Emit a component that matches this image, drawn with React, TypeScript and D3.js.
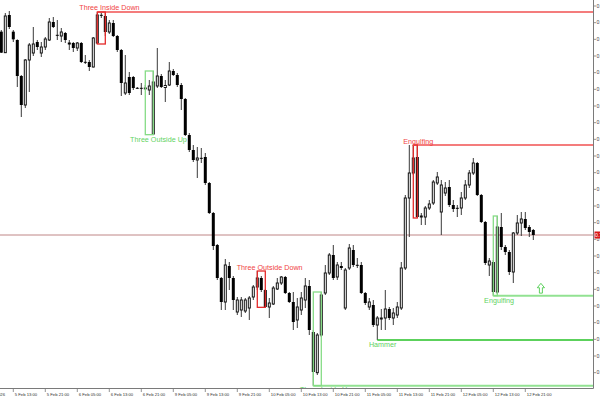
import React from "react";
import * as d3 from "d3";

// ---- Candle data (H1, starting 5 Feb 10:00) ----
const opens = [
  0.72246, 0.72120, 0.72346, 0.72246, 0.72196, 0.71980, 0.71806, 0.72076, 0.72118, 0.72184,
  0.72118, 0.72154, 0.72196, 0.72304, 0.72226, 0.72220, 0.72238, 0.72181, 0.72178, 0.72148,
  0.72178, 0.72064, 0.72064, 0.72034, 0.72178, 0.72346, 0.72340, 0.72244, 0.72298, 0.72220,
  0.72136, 0.71878, 0.71974, 0.71974, 0.71908, 0.71908, 0.71905, 0.71896, 0.71632, 0.71920,
  0.71980, 0.71911, 0.71926, 0.72010, 0.71986, 0.71926, 0.71842, 0.71626, 0.71536, 0.71476,
  0.71488, 0.71494, 0.71338, 0.71158, 0.70966, 0.70768, 0.70624, 0.70840, 0.70768, 0.70564,
  0.70576, 0.70570, 0.70588, 0.70654, 0.70714, 0.70768, 0.70696, 0.70594, 0.70612, 0.70702,
  0.70738, 0.70774, 0.70678, 0.70624, 0.70516, 0.70576, 0.70636, 0.70720, 0.70444, 0.70200,
  0.70426, 0.70678, 0.70798, 0.70906, 0.70774, 0.70840, 0.70588, 0.70828, 0.70936, 0.70846,
  0.70846, 0.70678, 0.70594, 0.70606, 0.70486, 0.70522, 0.70528, 0.70582, 0.70528, 0.70546,
  0.70588, 0.70828, 0.71248, 0.71398, 0.71494, 0.71134, 0.71134, 0.71188, 0.71218, 0.71338,
  0.71164, 0.71278, 0.71314, 0.71206, 0.71188, 0.71188, 0.71248, 0.71326, 0.71398, 0.71458,
  0.71266, 0.71104, 0.70846, 0.70864, 0.70684, 0.71074, 0.70954, 0.70924, 0.70804, 0.71038,
  0.71098, 0.71122, 0.71074, 0.71056,
];
const highs = [
  0.72256, 0.72358, 0.72370, 0.72256, 0.72200, 0.71986, 0.72082, 0.72178, 0.72274, 0.72196,
  0.72184, 0.72214, 0.72328, 0.72334, 0.72316, 0.72268, 0.72244, 0.72196, 0.72184, 0.72184,
  0.72184, 0.72106, 0.72076, 0.72214, 0.72364, 0.72364, 0.72358, 0.72316, 0.72316, 0.72226,
  0.72142, 0.72106, 0.72004, 0.71980, 0.71914, 0.71938, 0.71926, 0.71956, 0.72010, 0.72148,
  0.71992, 0.71956, 0.72064, 0.72022, 0.71998, 0.71938, 0.71848, 0.71638, 0.71566, 0.71554,
  0.71548, 0.71518, 0.71344, 0.71164, 0.70972, 0.70774, 0.70882, 0.70864, 0.70780, 0.70654,
  0.70654, 0.70648, 0.70660, 0.70726, 0.70810, 0.70780, 0.70702, 0.70648, 0.70720, 0.70768,
  0.70780, 0.70780, 0.70684, 0.70684, 0.70648, 0.70684, 0.70768, 0.70756, 0.70456, 0.70438,
  0.70684, 0.70846, 0.70918, 0.70966, 0.70864, 0.70864, 0.70828, 0.70972, 0.70966, 0.70888,
  0.70864, 0.70684, 0.70648, 0.70636, 0.70540, 0.70582, 0.70696, 0.70594, 0.70588, 0.70624,
  0.70864, 0.71266, 0.71566, 0.71566, 0.71566, 0.71158, 0.71200, 0.71236, 0.71356, 0.71404,
  0.71356, 0.71344, 0.71356, 0.71236, 0.71206, 0.71284, 0.71356, 0.71416, 0.71488, 0.71464,
  0.71272, 0.71110, 0.70888, 0.70876, 0.71140, 0.71158, 0.70966, 0.70936, 0.71044, 0.71146,
  0.71164, 0.71164, 0.71086, 0.71062,
];
const lows = [
  0.72118, 0.72118, 0.72262, 0.72184, 0.71914, 0.71734, 0.71788, 0.71884, 0.72100, 0.72136,
  0.72094, 0.72136, 0.72190, 0.72268, 0.72196, 0.72184, 0.72178, 0.72136, 0.72124, 0.72130,
  0.72058, 0.72052, 0.72010, 0.72031, 0.72172, 0.72328, 0.72220, 0.72232, 0.72214, 0.72124,
  0.71860, 0.71866, 0.71866, 0.71896, 0.71902, 0.71866, 0.71896, 0.71866, 0.71628, 0.71908,
  0.71908, 0.71824, 0.71920, 0.71980, 0.71914, 0.71776, 0.71620, 0.71524, 0.71464, 0.71368,
  0.71458, 0.71326, 0.71152, 0.70936, 0.70756, 0.70576, 0.70576, 0.70696, 0.70576, 0.70546,
  0.70534, 0.70558, 0.70516, 0.70636, 0.70696, 0.70684, 0.70592, 0.70528, 0.70606, 0.70696,
  0.70726, 0.70672, 0.70618, 0.70456, 0.70468, 0.70546, 0.70588, 0.70426, 0.70122, 0.70186,
  0.70414, 0.70666, 0.70786, 0.70756, 0.70756, 0.70816, 0.70576, 0.70816, 0.70834, 0.70828,
  0.70672, 0.70606, 0.70576, 0.70474, 0.70396, 0.70456, 0.70456, 0.70516, 0.70486, 0.70528,
  0.70576, 0.70816, 0.71014, 0.71386, 0.71128, 0.71086, 0.71086, 0.71176, 0.71206, 0.71326,
  0.71026, 0.71260, 0.71194, 0.71164, 0.71134, 0.71146, 0.71236, 0.71308, 0.71386, 0.71260,
  0.71098, 0.70846, 0.70780, 0.70662, 0.70672, 0.70936, 0.70906, 0.70786, 0.70738, 0.71026,
  0.71020, 0.71056, 0.71014, 0.70996,
];
const closes = [
  0.72120, 0.72340, 0.72274, 0.72200, 0.71980, 0.71806, 0.72076, 0.72166, 0.72172, 0.72154,
  0.72154, 0.72202, 0.72304, 0.72274, 0.72224, 0.72244, 0.72196, 0.72169, 0.72148, 0.72178,
  0.72064, 0.72061, 0.72034, 0.72208, 0.72346, 0.72340, 0.72244, 0.72298, 0.72220, 0.72136,
  0.71938, 0.71938, 0.71878, 0.71908, 0.71906, 0.71905, 0.71908, 0.71920, 0.71944, 0.71980,
  0.71914, 0.71923, 0.72010, 0.71986, 0.71926, 0.71842, 0.71626, 0.71536, 0.71476, 0.71488,
  0.71485, 0.71338, 0.71158, 0.70960, 0.70768, 0.70624, 0.70846, 0.70768, 0.70636, 0.70636,
  0.70636, 0.70636, 0.70648, 0.70714, 0.70768, 0.70696, 0.70594, 0.70618, 0.70708, 0.70738,
  0.70774, 0.70678, 0.70624, 0.70504, 0.70594, 0.70648, 0.70720, 0.70456, 0.70204, 0.70426,
  0.70666, 0.70798, 0.70906, 0.70768, 0.70846, 0.70828, 0.70816, 0.70948, 0.70846, 0.70843,
  0.70678, 0.70618, 0.70624, 0.70486, 0.70528, 0.70528, 0.70582, 0.70528, 0.70558, 0.70594,
  0.70828, 0.71248, 0.71398, 0.71488, 0.71134, 0.71140, 0.71188, 0.71212, 0.71344, 0.71374,
  0.71326, 0.71308, 0.71206, 0.71182, 0.71185, 0.71248, 0.71326, 0.71398, 0.71458, 0.71266,
  0.71104, 0.70858, 0.70870, 0.70684, 0.71074, 0.70954, 0.70924, 0.70804, 0.71038, 0.71098,
  0.71122, 0.71068, 0.71044, 0.71026,
];

// ---- Axis data ----
const timeTickBars = [3, 11, 19, 27, 35, 43, 51, 59, 67, 75, 83, 91, 99, 107, 115, 123, 131];
const timeTickLabels = [
  "5 Feb 13:00", "5 Feb 21:00", "6 Feb 05:00", "6 Feb 13:00", "6 Feb 21:00", "9 Feb 05:00",
  "9 Feb 13:00", "9 Feb 21:00", "10 Feb 05:00", "10 Feb 13:00", "10 Feb 21:00", "11 Feb 05:00",
  "11 Feb 13:00", "11 Feb 21:00", "12 Feb 05:00", "12 Feb 13:00", "12 Feb 21:00",
];
const firstDateLabel = "5 Feb 2026";
const priceTicks = [
  0.724, 0.723, 0.722, 0.721, 0.72, 0.719, 0.718, 0.717, 0.716, 0.715, 0.714, 0.713,
  0.712, 0.711, 0.71, 0.709, 0.708, 0.707, 0.706, 0.705, 0.704, 0.703, 0.702,
];
const priceDomain = [0.70108, 0.72436];
const barDomain = [0, 148];

// ---- Candlestick pattern annotations ----
const patternNames = ["Three Inside Down", "Three Outside Up", "Three Outside Down", "Three Inside Up", "Hammer", "Engulfing", "Engulfing"];
const patternStart = [24, 36, 64, 78, 94, 103, 123];
const patternEnd = [26, 38, 66, 80, 94, 104, 124];
const patternBullish = [false, true, false, true, true, false, true];
const patternHasBox = [true, true, true, true, false, true, true];
const patternLevel = ["high", "", "", "low", "low", "high", "low"];
const labelBars = [19.5, 32.2, 58.85, 74.7, 91.9, 100.5, 120.7];
const labelPrices = [0.72376, 0.71585, 0.70816, 0.70084, 0.70354, 0.71574, 0.70618];
const arrowBar = 134.9;
const arrowPrice = 0.70736;

const W = 600;
const H = 400;
const plotRight = 593;
const plotBottom = 388;

export default function App() {
  const x = d3.scaleLinear().domain(barDomain).range([1.3, 593.3]);
  const y = d3.scaleLinear().domain(priceDomain).range([plotBottom, 0]);
  const font = "'Liberation Sans', Arial, sans-serif";
  const current = closes[closes.length - 1];
  const fmt = d3.format(".4f");

  const candles = opens.map((o, i) => {
    const c = closes[i];
    const cx = x(i);
    const top = y(Math.max(o, c));
    const bot = y(Math.min(o, c));
    const h = Math.max(bot - top, 0.8);
    const bull = c > o;
    return (
      <g key={i}>
        <line x1={cx} x2={cx} y1={y(highs[i])} y2={y(lows[i])} stroke="#3a3a3a" strokeWidth={1} />
        {bull ? (
          <rect x={cx - 1} y={top} width={2} height={h} fill="#fff" stroke="#111" strokeWidth={1} />
        ) : (
          <rect x={cx - 1.5} y={top - (h < 1 ? 0.2 : 0)} width={3} height={Math.max(h, 1)} fill="#000" />
        )}
      </g>
    );
  });

  const patterns = patternNames.map((name, k) => {
    const s = patternStart[k];
    const e = patternEnd[k];
    const idx = d3.range(s, e + 1);
    const hi = d3.max(idx, (i) => highs[i]) as number;
    const lo = d3.min(idx, (i) => lows[i]) as number;
    const bull = patternBullish[k];
    const single = s === e;
    const boxColor = bull ? "#86dc86" : "#e42a2a";
    const lineColor = bull ? (single ? "#26c226" : "#92e292") : "#f47c7c";
    const textColor = bull ? "#5fd35f" : "#f04444";
    const lvl = patternLevel[k];
    const ly = lvl === "high" ? y(hi) : y(lo);
    return (
      <g key={k}>
        {lvl && (
          <line x1={x(s)} x2={plotRight} y1={ly} y2={ly} stroke={lineColor} strokeWidth={single ? 1.3 : 2} />
        )}
        {patternHasBox[k] && (
          <rect x={x(s)} y={y(hi)} width={x(e) - x(s)} height={y(lo) - y(hi)} fill="none" stroke={boxColor} strokeWidth={1.3} />
        )}
        <text x={x(labelBars[k])} y={y(labelPrices[k])} fontSize={7.2} fontFamily={font} fill={textColor}>
          {name}
        </text>
      </g>
    );
  });

  const ax = x(arrowBar);
  const ay = y(arrowPrice);
  const arrowPath = `M${ax},${ay} L${ax + 3.6},${ay + 4.4} L${ax + 1.5},${ay + 4.4} L${ax + 1.5},${ay + 9.8} L${ax - 1.5},${ay + 9.8} L${ax - 1.5},${ay + 4.4} L${ax - 3.6},${ay + 4.4} Z`;

  return (
    <svg width={W} height={H} style={{ position: "absolute", left: 0, top: 0, background: "#fff" }}>
      <defs>
        <clipPath id="plot">
          <rect x={0} y={0} width={plotRight} height={plotBottom + 0.5} />
        </clipPath>
      </defs>
      <rect x={0} y={0} width={W} height={H} fill="#fff" />
      <g clipPath="url(#plot)">
        <line x1={0} x2={plotRight} y1={y(current)} y2={y(current)} stroke="#b87878" strokeWidth={0.9} />
        {candles}
        {patterns}
        <path d={arrowPath} fill="#fff" stroke="#4ccc4c" strokeWidth={0.9} />
      </g>
      {/* axes */}
      <line x1={plotRight + 0.5} x2={plotRight + 0.5} y1={0} y2={plotBottom + 0.5} stroke="#7a7a7a" strokeWidth={1} />
      <line x1={0} x2={plotRight + 0.5} y1={plotBottom + 0.5} y2={plotBottom + 0.5} stroke="#7a7a7a" strokeWidth={1} />
      {priceTicks.map((p) => (
        <g key={p}>
          <line x1={plotRight + 0.5} x2={plotRight + 3} y1={y(p)} y2={y(p)} stroke="#7a7a7a" strokeWidth={0.8} />
          <text x={plotRight + 3.5} y={y(p) + 1.8} fontSize={5.2} fontFamily={font} fill="#444">
            {fmt(p)}
          </text>
        </g>
      ))}
      <rect x={plotRight + 1.5} y={y(current) - 3.5} width={8} height={7} fill="#d81818" />
      <text x={plotRight + 2} y={y(current) + 1.8} fontSize={5.2} fontFamily={font} fill="#fff">
        {d3.format(".5f")(current)}
      </text>
      {timeTickBars.map((b, k) => (
        <g key={b}>
          <line x1={x(b)} x2={x(b)} y1={plotBottom + 0.5} y2={plotBottom + 4} stroke="#7a7a7a" strokeWidth={0.8} />
          <text x={x(b) + 1.5} y={plotBottom + 7.5} fontSize={4.2} fontFamily={font} fill="#333">
            {timeTickLabels[k]}
          </text>
        </g>
      ))}
      <text x={5} y={plotBottom + 7.5} fontSize={4.2} fontFamily={font} fill="#333" textAnchor="end">
        {firstDateLabel}
      </text>
    </svg>
  );
}
